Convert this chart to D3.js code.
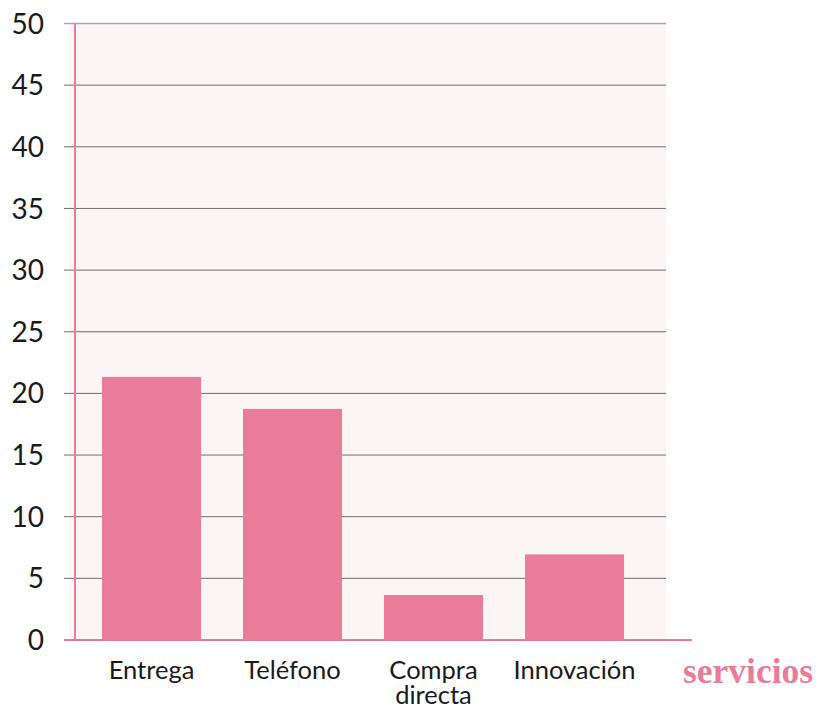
<!DOCTYPE html>
<html>
<head>
<meta charset="utf-8">
<script src="https://cdn.jsdelivr.net/npm/d3@7"></script>
<style>
  html, body { margin: 0; padding: 0; background: #ffffff; }
  svg { display: block; }
</style>
</head>
<body>
<svg id="chart" width="817" height="710"></svg>
<script>
// Service categories and their values
const categories = ["Entrega", "Teléfono", "Compra\ndirecta", "Innovación"];
const values = [21.3, 18.7, 3.6, 6.9];
const yTicks = [0, 5, 10, 15, 20, 25, 30, 35, 40, 45, 50];
const axisTitle = "servicios";

const pink = "#e97c99";
const svg = d3.select("#chart");

const plot = { left: 69, right: 666, top: 23, bottom: 639.5 };

const x = d3.scaleBand()
  .domain(categories)
  .range([plot.left, plot.right])
  .paddingInner(0.298)
  .paddingOuter(0.266)
  .align(0.44);

const y = d3.scaleLinear()
  .domain([0, 50])
  .range([plot.bottom, plot.top]);

// plot background
svg.append("rect")
  .attr("x", plot.left)
  .attr("y", plot.top)
  .attr("width", plot.right - plot.left)
  .attr("height", plot.bottom - plot.top)
  .attr("fill", "#fbf5f5");

// horizontal gridlines
const gy = svg.append("g")
  .attr("transform", `translate(${plot.right},0)`)
  .call(d3.axisLeft(y).tickValues(yTicks).tickSize(plot.right - 64).tickFormat(""));
gy.select(".domain").remove();
gy.selectAll(".tick line")
  .attr("stroke", d => d === 50 ? "#a8a8a8" : "#6e6e6e")
  .attr("stroke-width", d => d === 50 ? 1.5 : 1);

// value labels
const gl = svg.append("g")
  .attr("transform", "translate(64,0)")
  .call(d3.axisLeft(y).tickValues(yTicks).tickSize(0).tickPadding(20).tickFormat(d3.format("d")));
gl.select(".domain").remove();
gl.selectAll(".tick text")
  .attr("font-family", "Lato, 'Noto Sans', sans-serif")
  .attr("font-size", 28)
  .attr("fill", "#1a1a1a")
  .attr("dy", "0.36em");

// bars
svg.append("g")
  .selectAll("rect")
  .data(values)
  .join("rect")
  .attr("x", (d, i) => x(categories[i]))
  .attr("y", d => y(d))
  .attr("width", x.bandwidth())
  .attr("height", d => y(0) - y(d))
  .attr("fill", pink);

// axis lines
svg.append("line")
  .attr("x1", 75).attr("x2", 75)
  .attr("y1", plot.top).attr("y2", plot.bottom + 1)
  .attr("stroke", pink).attr("stroke-width", 2);
svg.append("line")
  .attr("x1", 64).attr("x2", 692)
  .attr("y1", plot.bottom + 0.5).attr("y2", plot.bottom + 0.5)
  .attr("stroke", pink).attr("stroke-width", 2);

// category labels
const labels = svg.append("g")
  .selectAll("text")
  .data(categories)
  .join("text")
  .attr("x", d => x(d) + x.bandwidth() / 2)
  .attr("y", 679)
  .attr("text-anchor", "middle")
  .attr("font-family", "Lato, 'Noto Sans', sans-serif")
  .attr("font-size", 25.5)
  .attr("fill", "#1a1a1a");
labels.each(function(d) {
  const lines = d.split("\n");
  d3.select(this).selectAll("tspan")
    .data(lines)
    .join("tspan")
    .attr("x", x(d) + x.bandwidth() / 2)
    .attr("dy", (l, i) => i === 0 ? 0 : 25)
    .text(l => l);
});

// axis title
svg.append("text")
  .attr("x", 683)
  .attr("y", 683)
  .attr("font-family", "'Liberation Serif', serif")
  .attr("font-weight", "bold")
  .attr("font-size", 35.5)
  .attr("fill", pink)
  .text(axisTitle);
</script>
</body>
</html>
